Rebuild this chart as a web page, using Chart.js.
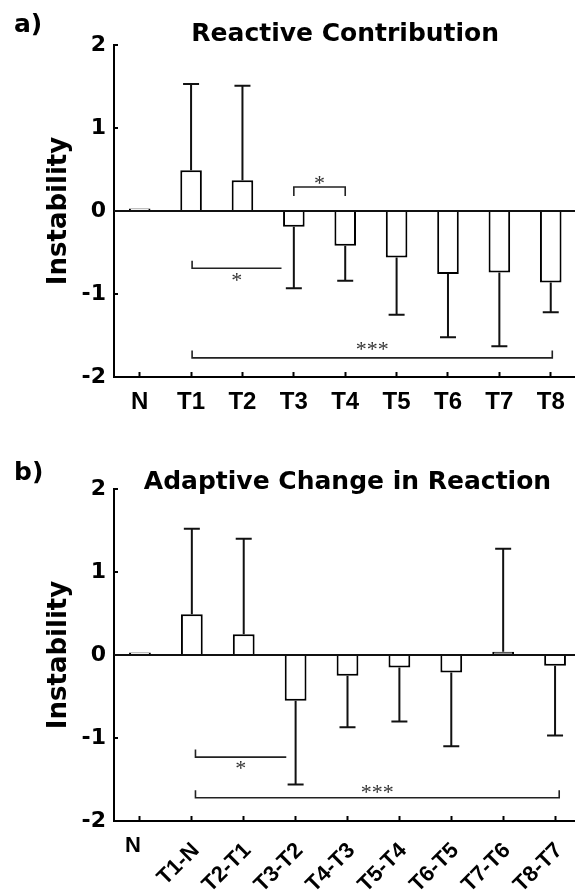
<!DOCTYPE html>
<html>
<head>
<meta charset="utf-8">
<script src="https://cdn.jsdelivr.net/npm/chart.js@4.4.0/dist/chart.umd.min.js"></script>
<style>
  html, body { margin:0; padding:0; background:#fff; width:575px; height:895px; overflow:hidden; }
  .panel { position:absolute; left:0; width:581px; }
  .tag { position:absolute; left:14px; font: bold 25px "DejaVu Sans"; line-height:1; color:#000; z-index:2; }
</style>
</head>
<body>
<div class="panel" style="top:0;height:440px"><canvas id="chartA" width="581" height="440"></canvas></div>
<div class="panel" style="top:440px;height:455px"><canvas id="chartB" width="581" height="455"></canvas></div>
<div class="tag" style="top:11px">a)</div>
<div class="tag" style="top:459px">b)</div>
<script>
// panel a
var labelsA = ['N', 'T1', 'T2', 'T3', 'T4', 'T5', 'T6', 'T7', 'T8'];
var meanA = [0.03, 0.49, 0.37, -0.19, -0.42, -0.56, -0.76, -0.74, -0.86];
var errA = [0, 1.04, 1.14, 0.74, 0.42, 0.69, 0.76, 0.89, 0.36];
// panel b
var labelsB = ['N', 'T1-N', 'T2-T1', 'T3-T2', 'T4-T3', 'T5-T4', 'T6-T5', 'T7-T6', 'T8-T7'];
var meanB = [0.03, 0.49, 0.25, -0.55, -0.25, -0.15, -0.21, 0.04, -0.13];
var errB = [0, 1.03, 1.15, 1.01, 0.62, 0.65, 0.89, 1.24, 0.84];
var yTicks = [-2, -1, 0, 1, 2];

// significance brackets: [from, to, lineY, tipY, ends, text, textY]
var sigA = [
  [3, 4, 0.29, 0.18, 'both', '*', 0.37],
  [1.02, 2.76, -0.69, -0.60, 'left', '*', -0.80],
  [1.02, 8.03, -1.77, -1.68, 'both', '***', -1.63]
];
var sigB = [
  [1.07, 2.82, -1.23, -1.14, 'left', '*', -1.33],
  [1.07, 8.08, -1.72, -1.63, 'both', '***', -1.62]
];

function errorPlugin(errs) {
  return {
    id: 'errbars',
    afterDatasetsDraw: function(chart) {
      var ctx = chart.ctx;
      var ys = chart.scales.y;
      var area = chart.chartArea;
      var meta = chart.getDatasetMeta(0);
      var vals = chart.data.datasets[0].data;
      ctx.save();
      ctx.strokeStyle = '#111';
      ctx.lineWidth = 2;
      // zero line on top of the bar bases
      var z = Math.round(ys.getPixelForValue(0));
      ctx.beginPath();
      ctx.moveTo(area.left, z);
      ctx.lineTo(area.right, z);
      ctx.stroke();
      meta.data.forEach(function(bar, i) {
        if (!errs[i]) return;
        var v = vals[i];
        var end = ys.getPixelForValue(v + (v >= 0 ? errs[i] : -errs[i]));
        ctx.beginPath();
        ctx.moveTo(bar.x, bar.y);
        ctx.lineTo(bar.x, end);
        ctx.moveTo(bar.x - 8, end);
        ctx.lineTo(bar.x + 8, end);
        ctx.stroke();
      });
      ctx.restore();
    }
  };
}

function sigPlugin(sig) {
  return {
    id: 'sig',
    afterDatasetsDraw: function(chart) {
      var ctx = chart.ctx;
      var xs = chart.scales.x, ys = chart.scales.y;
      ctx.save();
      ctx.strokeStyle = '#222';
      ctx.lineWidth = 1.6;
      ctx.fillStyle = '#333';
      ctx.font = '22px "Liberation Serif"';
      ctx.textAlign = 'center';
      sig.forEach(function(s) {
        var x1 = xs.getPixelForValue(s[0]), x2 = xs.getPixelForValue(s[1]);
        var y = ys.getPixelForValue(s[2]), t = ys.getPixelForValue(s[3]);
        ctx.beginPath();
        ctx.moveTo(x1, t);
        ctx.lineTo(x1, y);
        ctx.lineTo(x2, y);
        if (s[4] === 'both') ctx.lineTo(x2, t);
        ctx.stroke();
        var m = ctx.measureText(s[5]);
        var ty = ys.getPixelForValue(s[6]);
        ctx.textBaseline = 'alphabetic';
        ctx.fillText(s[5], (x1 + x2) / 2, ty + (m.actualBoundingBoxAscent - m.actualBoundingBoxDescent) / 2);
      });
      ctx.restore();
    }
  };
}

var slantLabels = {
  id: 'slant',
  afterDraw: function(chart) {
    var ctx = chart.ctx;
    var xs = chart.scales.x;
    var bottom = chart.chartArea.bottom;
    ctx.save();
    ctx.fillStyle = '#000';
    ctx.font = 'bold 22px "Liberation Sans"';
    chart.data.labels.forEach(function(lab, i) {
      var x = xs.getPixelForValue(i);
      if (lab.indexOf('-') < 0) {
        ctx.textAlign = 'right';
        ctx.textBaseline = 'top';
        ctx.fillText(lab, x + 1, bottom + 14);
      } else {
        ctx.save();
        ctx.translate(x + 4, bottom + 26);
        ctx.rotate(-Math.PI / 4);
        ctx.textAlign = 'right';
        ctx.textBaseline = 'middle';
        ctx.fillText(lab, 0, 0);
        ctx.restore();
      }
    });
    ctx.restore();
  }
};

function makeChart(id, labels, means, errs, sig, title, titlePad, axisH, showX) {
  var plugins = [errorPlugin(errs), sigPlugin(sig)];
  if (!showX) plugins.push(slantLabels);
  return new Chart(document.getElementById(id), {
    type: 'bar',
    data: {
      labels: labels,
      datasets: [{
        data: means,
        backgroundColor: function(c) { return c.raw > 0 && c.raw < 0.05 && c.dataIndex > 0 ? '#999' : '#fff'; },
        borderColor: '#000',
        borderWidth: 2,
        borderSkipped: 'start',
        barPercentage: 0.42,
        categoryPercentage: 1
      }]
    },
    options: {
      responsive: false,
      animation: false,
      events: [],
      layout: { padding: 0 },
      plugins: {
        legend: { display: false },
        tooltip: { enabled: false },
        title: {
          display: true,
          text: title,
          fullSize: false,
          color: '#000',
          font: { family: 'DejaVu Sans', weight: 'bold', size: 25, lineHeight: 1 },
          padding: titlePad
        }
      },
      scales: {
        x: {
          offset: true,
          grid: { display: true, offset: false, drawOnChartArea: false, tickLength: -5, tickColor: '#000', tickWidth: 2, color: '#000' },
          border: { display: true, color: '#000', width: 2 },
          ticks: {
            display: showX,
            autoSkip: false,
            maxRotation: 0,
            minRotation: 0,
            padding: 16,
            color: '#000',
            font: { family: 'Liberation Sans', weight: 'bold', size: 24 }
          },
          afterFit: function(s) { s.height = axisH; }
        },
        y: {
          min: yTicks[0],
          max: yTicks[yTicks.length - 1],
          grid: {
            tickLength: -4,
            tickColor: '#000',
            tickWidth: 2,
            lineWidth: 2,
            color: 'rgba(0,0,0,0)'
          },
          border: { display: true, color: '#000', width: 2 },
          ticks: {
            stepSize: 1,
            padding: 12,
            color: '#000',
            font: { family: 'DejaVu Sans', weight: 'bold', size: 22 }
          },
          title: {
            display: true,
            text: 'Instability',
            color: '#000',
            font: { family: 'DejaVu Sans', weight: 'bold', size: 26, lineHeight: 1.2 },
            padding: { top: 44, bottom: 0 }
          },
          afterFit: function(s) { s.width = 114; }
        }
      }
    },
    plugins: plugins
  });
}

makeChart('chartA', labelsA, meanA, errA, sigA, 'Reactive Contribution', { top: 22, bottom: -2 }, 63, true);
makeChart('chartB', labelsB, meanB, errB, sigB, 'Adaptive Change in Reaction', { top: 30, bottom: -6 }, 74, false);
</script>
</body>
</html>
